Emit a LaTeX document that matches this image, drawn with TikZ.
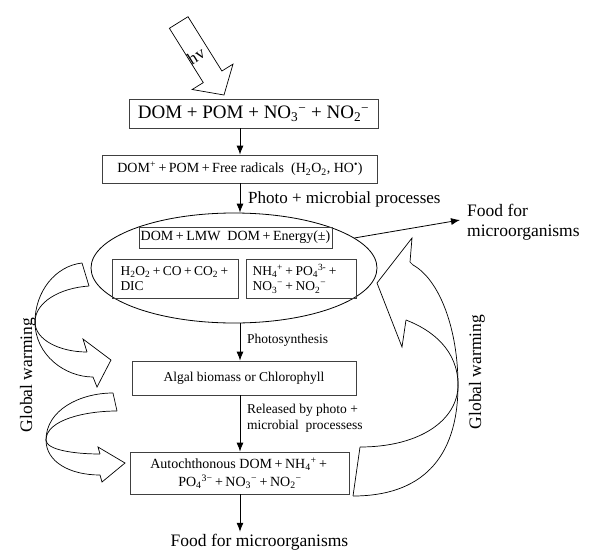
\documentclass[tikz,border=0pt]{standalone}
\usepackage{fontspec}
\setmainfont{Liberation Serif}
\usetikzlibrary{shapes.geometric,arrows.meta}
\newcommand\fsz[2]{\fontsize{#1}{#2}\selectfont}
\newcommand\pp{\kern0.18em+\kern0.18em}
\begin{document}
\begin{tikzpicture}[x=1pt,y=-1pt,
  box/.style={draw=black!75, line width=0.8pt, inner sep=0pt, align=center},
  arr/.style={-{Latex[length=9pt,width=7pt]}, line width=0.8pt},
  blk/.style={draw, line width=0.7pt, line join=miter},
  lbl/.style={inner sep=0pt, anchor=west, align=left}]
\useasboundingbox (0,0) rectangle (594,557);

% hv block arrow
\draw[blk] (188,16.7) -- (221.9,71.0) -- (233,64.1) -- (224,95) -- (192.2,89.5) -- (203.3,82.6) -- (169.4,28.3) -- cycle;
\node[rotate=32, inner sep=0pt, font=\fsz{17}{20}] (hv) at (196,56) {hv};

% boxes
\node[box, minimum width=249pt, minimum height=29pt, font=\fsz{19}{22}] (b1) at (253.5,113.5)
  {DOM + POM + NO\textsubscript{3}\textsuperscript{−} + NO\textsubscript{2}\textsuperscript{−}};
\node[box, minimum width=275pt, minimum height=28pt, font=\fsz{14}{16}] (b2) at (240,169)
  {DOM\textsuperscript{+}\pp POM\pp Free radicals\enspace(H\textsubscript{2}O\textsubscript{2}, HO\textsuperscript{•})};

\node[draw, ellipse, line width=0.8pt, minimum width=286pt, minimum height=110pt, inner sep=0pt] (ell) at (234,268) {};
\node[box, minimum width=193pt, minimum height=21pt, font=\fsz{14}{16}] (lmw) at (235.5,237.5)
  {DOM\pp LMW\enspace DOM\pp Energy(±)};
\node[box, minimum height=39pt, text width=110pt, inner xsep=8pt, align=left, font=\fsz{13.5}{15.5}] (h2o2) at (175.5,278.5)
  {H\textsubscript{2}O\textsubscript{2}\pp CO\pp CO\textsubscript{2}\pp\\DIC};
\node[box, minimum height=39pt, text width=97pt, inner xsep=6.5pt, align=left, font=\fsz{13.5}{15.5}] (nh4) at (301,278.5)
  {NH\textsubscript{4}\textsuperscript{+}\pp PO\textsubscript{4}\textsuperscript{3-}\pp\\NO\textsubscript{3}\textsuperscript{−}\pp NO\textsubscript{2}\textsuperscript{−}};

\node[box, minimum width=224pt, minimum height=34pt, font=\fsz{13.5}{16}] (alg) at (244,378)
  {Algal biomass or Chlorophyll};
\node[box, minimum width=219pt, minimum height=42pt, font=\fsz{14}{18}] (aut) at (240,473)
  {Autochthonous DOM\pp NH\textsubscript{4}\textsuperscript{+}\pp\\PO\textsubscript{4}\textsuperscript{3−}\pp NO\textsubscript{3}\textsuperscript{−}\pp NO\textsubscript{2}\textsuperscript{−}};

% labels
\node[lbl, font=\fsz{17}{20}] (lphoto) at (248,199) {Photo + microbial processes};
\node[lbl, font=\fsz{13.5}{16}] (lps) at (247,340) {Photosynthesis};
\node[lbl, font=\fsz{13.5}{16}] (lrel) at (247,418) {Released by photo +\\microbial\enspace processess};
\node[lbl, font=\fsz{17.5}{20}] (foodr) at (467,222) {Food for\\microorganisms};
\node[inner sep=2pt, font=\fsz{17.5}{20}] (foodb) at (259.5,542) {Food for microorganisms};
\node[rotate=90, inner sep=0pt, font=\fsz{17.5}{20}] (gwl) at (28,375) {Global warming};
\node[rotate=90, inner sep=0pt, font=\fsz{17.5}{20}] (gwr) at (477,372) {Global warming};

% connectors
\draw[arr] (b2.north |- b1.south) -- (b2.north);
\draw[arr] (b2.south) -- (b2.south |- ell.north);
\draw[arr] (ell.south -| b2.south) -- (b2.south |- alg.north);
\draw[arr] (aut.north |- alg.south) -- (aut.north);
\draw[arr] (aut.south) -- (aut.south |- foodb.north);
\draw[arr] (ell.14) -- ([xshift=-7pt,yshift=2pt]foodr.west);

% left curved arrow 1
\draw[blk] (82,263) -- (89,286);
\draw[blk] (82,263) .. controls (55,266) and (35,292) .. (35,322);
\draw[blk] (89,286) .. controls (60,288) and (35,302) .. (35,322);
\draw[blk] (35,322) .. controls (35,340) and (60,352) .. (87,352);
\draw[blk] (35,322) .. controls (35,355) and (65,377) .. (93,377);
\draw[blk] (87,352) -- (83,339) -- (111,360) -- (97,387) -- (93,377);

% left curved arrow 2
\draw[blk] (113,393) -- (117,411);
\draw[blk] (113,393) .. controls (80,393) and (46,410) .. (46,440);
\draw[blk] (117,411) .. controls (85,411) and (46,420) .. (46,440);
\draw[blk] (46,440) .. controls (46,450) and (75,454) .. (100,454);
\draw[blk] (46,440) .. controls (46,462) and (70,475) .. (100,475);
\draw[blk] (100,454) -- (98,447) -- (125,463) -- (102,482) -- (100,475);

% right curved arrow
\draw[blk] (360,447) -- (353,496);
\draw[blk] (413,265) .. controls (440,280) and (458,330) .. (458,385);
\draw[blk] (406,320) .. controls (432,330) and (458,350) .. (458,385);
\draw[blk] (458,385) .. controls (458,420) and (420,447) .. (360,447);
\draw[blk] (458,385) .. controls (458,460) and (420,496) .. (353,496);
\draw[blk] (413,265) -- (410,262) -- (412,238) -- (377,283) -- (402,347) -- (406,320);
\end{tikzpicture}
\end{document}
